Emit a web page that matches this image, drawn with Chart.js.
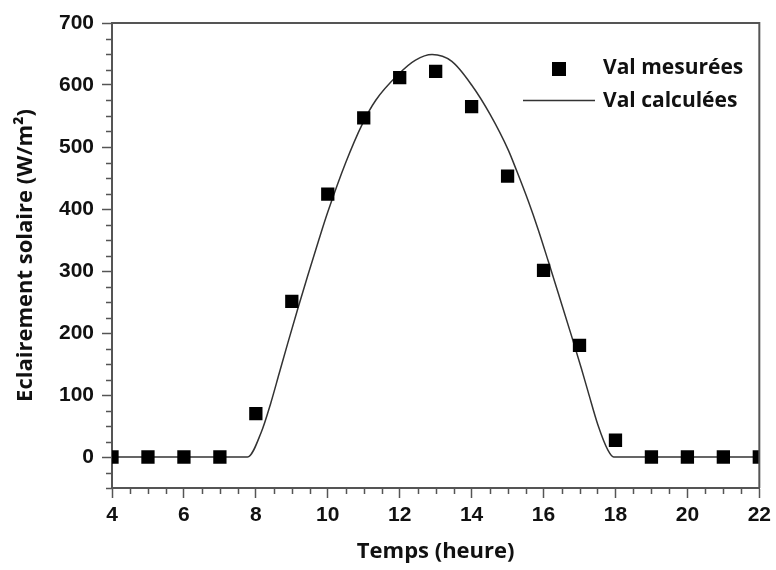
<!DOCTYPE html>
<html><head><meta charset="utf-8">
<script src="https://cdn.jsdelivr.net/npm/chart.js@4.4.0/dist/chart.umd.min.js"></script>
<style>html,body{margin:0;padding:0;background:#fff}</style>
</head><body>
<canvas id="c" width="776" height="570"></canvas>
<script>
// ---- data ----
const hours = [4,5,6,7,8,9,10,11,12,13,14,15,16,17,18,19,20,21,22];
const measured = [0,0,0,0,70,251,424,547,612,622,565,453,301,180,27,0,0,0,0];
const calcHours = [4,7.77,8.15,8.42,8.65,8.88,9.16,9.44,9.75,10,10.5,10.96,11.33,11.98,12.44,12.9,13.45,14.0,14.51,15.02,15.25,15.58,15.85,16.13,16.41,16.78,17.05,17.24,17.51,17.79,17.95,22];
const calcValues = [0,0,40,88,135,182,238,292,350,395,475,537,575,618,640,649,638,600,553,495,462,412,367,316,264,195,143,105,52,11,0,0];
const xTickLabels = [4,6,8,10,12,14,16,18,20,22];
const yTickLabels = [0,100,200,300,400,500,600,700];
const seriesNames = ['Val mesurées','Val calculées'];
const xTitle = 'Temps (heure)';
const yTitle = 'Eclairement solaire (W/m²)';

const AX = '#555';
const PLOT = {left:112, right:762, top:23, bottom:488};

const frameAndTicks = {
  id:'frameAndTicks',
  afterDatasetsDraw(chart){
    const {ctx, chartArea:a, scales:{x,y}} = chart;
    ctx.save();
    ctx.strokeStyle = AX; ctx.lineWidth = 2;
    ctx.beginPath();
    ctx.moveTo(a.left, a.top); ctx.lineTo(a.right, a.top); ctx.lineTo(a.right, a.bottom);
    ctx.stroke();
    // minor ticks
    ctx.lineWidth = 1.5;
    ctx.beginPath();
    y.ticks.forEach(t=>{ if (!yTickLabels.includes(t.value)) { const p = Math.round(y.getPixelForValue(t.value))+0.5; ctx.moveTo(a.left-6,p); ctx.lineTo(a.left,p);} });
    x.ticks.forEach(t=>{ if (!xTickLabels.includes(t.value)) { const p = Math.round(x.getPixelForValue(t.value))+0.5; ctx.moveTo(p,a.bottom); ctx.lineTo(p,a.bottom+6);} });
    ctx.stroke();
    // legend
    const ds = chart.data.datasets;
    ctx.font = 'bold 21px "Open Sans"';
    ctx.textBaseline = 'middle';
    ctx.textAlign = 'left';
    ctx.fillStyle = '#000';
    ctx.fillRect(552, 62, 14, 14);
    ctx.fillStyle = '#111';
    ctx.fillText(ds[0].label, 603, 68);
    ctx.strokeStyle = '#333'; ctx.lineWidth = 1.5;
    ctx.beginPath(); ctx.moveTo(523, 100.5); ctx.lineTo(595, 100.5); ctx.stroke();
    ctx.fillText(ds[1].label, 603, 101);
    ctx.restore();
  }
};

new Chart(document.getElementById('c'), {
  type:'scatter',
  data:{
    datasets:[
      {label:seriesNames[0], data:hours.map((h,i)=>({x:h,y:measured[i]})),
       pointStyle:'rect', pointRadius:9.4, pointHoverRadius:9.4, backgroundColor:'#000', borderColor:'#000', borderWidth:0, showLine:false, clip:0, order:1},
      {label:seriesNames[1], data:calcHours.map((h,i)=>({x:h,y:calcValues[i]})),
       showLine:true, pointRadius:0, borderColor:'#333', borderWidth:1.5, cubicInterpolationMode:'monotone', clip:0, order:2}
    ]
  },
  options:{
    responsive:false, animation:false, devicePixelRatio:1,
    layout:{padding:{left:0, right:776-PLOT.right, top:PLOT.top, bottom:0}},
    plugins:{legend:{display:false}, tooltip:{enabled:false}},
    scales:{
      x:{type:'linear', min:4, max:22,
        afterFit(s){ s.height = 570 - PLOT.bottom; },
        afterBuildTicks(s){ const t=[]; for(let v=4; v<=22.001; v+=0.5) t.push({value:Math.round(v*2)/2}); s.ticks=t; },
        ticks:{autoSkip:false, maxRotation:0, padding:5, color:'#111',
          font:{family:'"Liberation Sans", Arial', weight:'bold', size:21},
          callback:(v)=> xTickLabels.includes(v) ? String(v) : ''},
        grid:{drawOnChartArea:false, drawTicks:true, tickLength:10, tickWidth:1.5,
          tickColor:(c)=> (c.tick && xTickLabels.includes(c.tick.value)) ? AX : 'rgba(0,0,0,0)'},
        border:{display:true, color:AX, width:2},
        title:{display:true, text:xTitle, color:'#111', padding:{top:0,bottom:5},
          font:{family:'"Open Sans"', weight:'bold', size:22}}
      },
      y:{type:'linear', min:-50, max:700,
        afterFit(s){ s.width = PLOT.left; },
        afterBuildTicks(s){ const t=[]; for(let v=-50; v<=700; v+=25) t.push({value:v}); s.ticks=t; },
        ticks:{autoSkip:false, padding:8, color:'#111',
          font:{family:'"Liberation Sans", Arial', weight:'bold', size:21},
          callback:(v)=> yTickLabels.includes(v) ? String(v) : ''},
        grid:{drawOnChartArea:false, drawTicks:true, tickLength:10, tickWidth:1.5,
          tickColor:(c)=> (c.tick && yTickLabels.includes(c.tick.value)) ? AX : 'rgba(0,0,0,0)'},
        border:{display:true, color:AX, width:2},
        title:{display:true, text:yTitle, color:'#111', padding:{top:13,bottom:0},
          font:{family:'"Open Sans"', weight:'bold', size:22}}
      }
    }
  },
  plugins:[frameAndTicks]
});
</script>
</body></html>
